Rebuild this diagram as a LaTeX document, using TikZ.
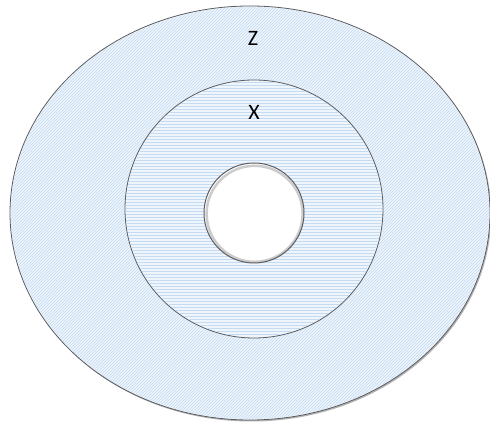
\documentclass[tikz,border=0pt]{standalone}
\usepackage{fontspec}
\setmainfont{Carlito}
\usetikzlibrary{patterns, shadows}
\definecolor{ringfill}{RGB}{238,245,252}
\definecolor{ringline}{RGB}{196,219,241}
\definecolor{rimgray}{RGB}{90,92,96}

\begin{document}
\begin{tikzpicture}[
    x=1pt, y=1pt,
    font=\fontsize{22}{26}\selectfont,
    zone/.style={draw=rimgray, line width=0.8pt, fill=ringfill},
    outerlines/.style={pattern=north east lines, pattern color=ringline},
    innerlines/.style={pattern=horizontal lines, pattern color=ringline},
    label/.style={inner sep=0pt, text=black},
  ]
  \useasboundingbox (0,0) rectangle (490,425);
  % outer zone Z
  \fill[black!30, xshift=1.2pt, yshift=-1.5pt] (250,212) ellipse [x radius=240, y radius=207];
  \path[zone] (250,212) ellipse [x radius=240, y radius=207];
  \fill[outerlines] (250,212) ellipse [x radius=239, y radius=206];
  % middle zone X
  \path[zone] (254,216) circle [radius=129];
  \fill[innerlines] (254,216) circle [radius=128];
  % hole
  \fill[white] (254,212) circle [radius=50];
  \draw[black!20, line width=2.5pt] (254.6,211.2) circle [radius=48];
  \draw[rimgray, line width=1pt] (254,212) circle [radius=50];
  % labels
  \node[label] (zlabel) at (253,387) {Z};
  \node[label] (xlabel) at (254,313) {X};
\end{tikzpicture}
\end{document}
